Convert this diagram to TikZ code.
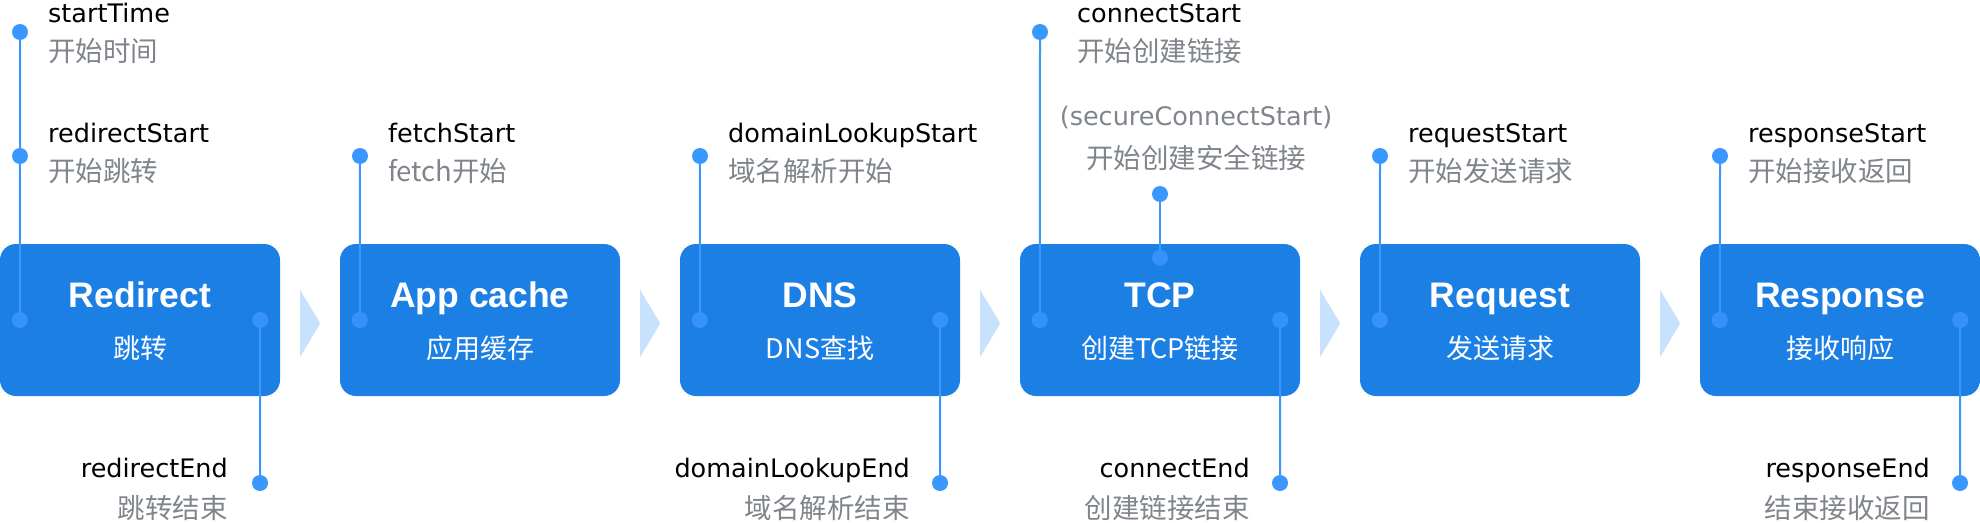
\documentclass[tikz,border=0pt]{standalone}
\usepackage{fontspec}
\setmainfont{DejaVu Sans}
\newfontfamily\cjk{Noto Sans CJK SC}
\newfontfamily\headfont{Liberation Sans}
\usetikzlibrary{positioning}

\definecolor{stageblue}{HTML}{1C7FE4}
\definecolor{pinblue}{HTML}{3A97FF}
\definecolor{chevronblue}{HTML}{C8E1FD}
\definecolor{descgray}{HTML}{80858C}

\begin{document}
\begin{tikzpicture}[x=1pt, y=-1pt]
\tikzset{stage/.style =
        {
            rectangle,
            rounded corners=16pt,
            fill=stageblue,
            minimum width=280pt,
            minimum height=152pt,
            inner sep=0pt
        }
}

\tikzset{stage title/.style =
        {
            inner sep=0pt,
            anchor=base,
            text=white,
            font=\headfont\bfseries\fontsize{35.5}{42}\selectfont
        }
}

\tikzset{stage sub/.style =
        {
            stage title,
            font=\cjk\fontsize{27}{32}\selectfont
        }
}

\tikzset{pin/.style =
        {
            circle,
            fill=pinblue,
            minimum size=16pt,
            inner sep=0pt
        }
}

\tikzset{inner pin/.style =
        {
            pin,
            fill opacity=0.8
        }
}

\tikzset{wire/.style = {
            line width=2pt,
            pinblue
        }
}

\tikzset{event/.style =
        {
            inner sep=0pt,
            text=black,
            font=\fontsize{25.5}{30}\selectfont
        }
}

\tikzset{event desc/.style =
        {
            inner sep=0pt,
            text=descgray,
            font=\cjk\fontsize{27.5}{32}\selectfont
        }
}
		\useasboundingbox (0,0) rectangle (1980,522);

		\foreach \n / \i / \title / \sub in
			{redirect/0/Redirect/跳转,
				cache/1/App cache/应用缓存,
				dns/2/DNS/DNS查找,
				tcp/3/TCP/创建TCP链接,
				request/4/Request/发送请求,
				response/5/Response/接收响应}
		{
		\node[stage] (\n) at (340*\i+140, 320) {};
		\node[stage title] (\n-title) at ([yshift=13pt]\n.center) {\title};
		\node[stage sub] (\n-sub) at ([yshift=-38pt]\n.center) {\sub};
		}

		\foreach \n in {redirect, cache, dns, tcp, request}
		\fill[chevronblue] ([xshift=20pt, yshift=30pt]\n.east) -- ([xshift=40pt, yshift=-3.5pt]\n.east) -- ([xshift=20pt, yshift=-37pt]\n.east) -- cycle;

		\foreach \n in {redirect, cache, dns, tcp, request, response}
		\node[inner pin] (\n-l) at ([xshift=20pt]\n.west) {};
		\foreach \n in {redirect, dns, tcp, response}
		\node[inner pin] (\n-r) at ([xshift=-20pt]\n.east) {};
		\node[inner pin] (tcp-t) at ([yshift=-14pt]tcp.north) {};

		% start events, text to the right of the pin
		\foreach \pinname / \px / \py / \lx / \ly / \desc in
			{startTime/20/32/48/22/开始时间,
				redirectStart/20/156/48/142/开始跳转,
				fetchStart/360/156/388/142/fetch开始,
				domainLookupStart/700/156/728/142/域名解析开始,
				connectStart/1040/32/1077/22/开始创建链接,
				requestStart/1380/156/1408/142/开始发送请求,
				responseStart/1720/156/1748/142/开始接收返回}
		{
		\node[pin] (\pinname) at (\px,\py) {};
		\node[event, anchor=base west] (\pinname-name) at (\lx,\ly) {\pinname};
		\node[event desc, anchor=base west] (\pinname-desc) at (\lx,\ly+39) {\desc};
		}

		% end events, text to the left of the pin
		\foreach \pinname / \px / \lx / \desc in
			{redirectEnd/260/228/跳转结束,
				domainLookupEnd/940/910/域名解析结束,
				connectEnd/1280/1250/创建链接结束,
				responseEnd/1960/1930/结束接收返回}
		{
		\node[pin] (\pinname) at (\px,483) {};
		\node[event, anchor=base east] (\pinname-name) at (\lx,477) {\pinname};
		\node[event desc, anchor=base east] (\pinname-desc) at (\lx,518) {\desc};
		}

		\node[pin] (secureConnectStart) at (1160,194) {};
		\node[event, text=descgray, anchor=base] (secureConnectStart-name) at (1196,125) {(secureConnectStart)};
		\node[event desc, anchor=base] (secureConnectStart-desc) at (1196,168) {开始创建安全链接};

		\draw[wire] (startTime) -- (redirectStart) -- (redirect-l);
		\draw[wire] (fetchStart) -- (cache-l);
		\draw[wire] (domainLookupStart) -- (dns-l);
		\draw[wire] (connectStart) -- (tcp-l);
		\draw[wire] (secureConnectStart) -- (tcp-t);
		\draw[wire] (requestStart) -- (request-l);
		\draw[wire] (responseStart) -- (response-l);
		\draw[wire] (redirect-r) -- (redirectEnd);
		\draw[wire] (dns-r) -- (domainLookupEnd);
		\draw[wire] (tcp-r) -- (connectEnd);
		\draw[wire] (response-r) -- (responseEnd);

	\end{tikzpicture}
\end{document}
